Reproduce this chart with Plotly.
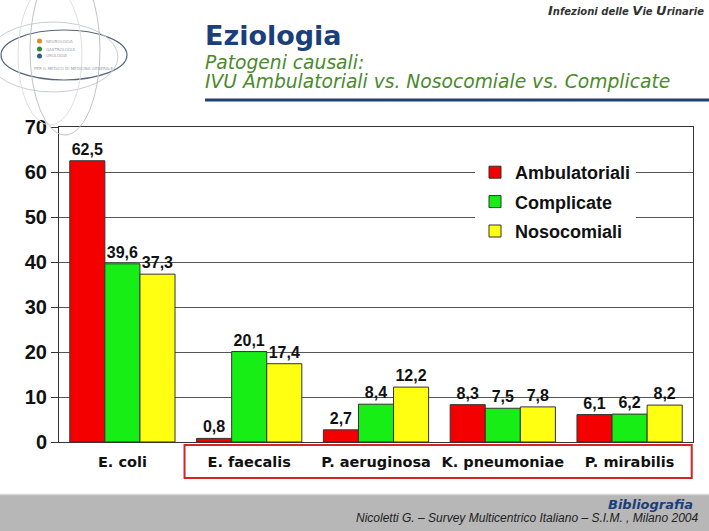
import plotly.graph_objects as go

categories = ["E. coli", "E. faecalis", "P. aeruginosa", "K. pneumoniae", "P. mirabilis"]
ambulatoriali = [62.5, 0.8, 2.7, 8.3, 6.1]
complicate = [39.6, 20.1, 8.4, 7.5, 6.2]
nosocomiali = [37.3, 17.4, 12.2, 7.8, 8.2]
series_names = ["Ambulatoriali", "Complicate", "Nosocomiali"]
series_values = [ambulatoriali, complicate, nosocomiali]
series_colors = ["#F40000", "#16EE16", "#FFFF12"]
y_ticks = [0, 10, 20, 30, 40, 50, 60, 70]

W, H = 709, 531
L, R, T, B = 59, 16, 127, 89
PW, PH = W - L - R, H - T - B


def px(x):
    return (x - L) / PW


def py(y):
    return (H - B - y) / PH


fig = go.Figure()
for i, (name, vals, col) in enumerate(zip(series_names, series_values, series_colors)):
    fig.add_trace(go.Bar(
        x=categories, y=vals, name=name, legendgroup=name,
        marker=dict(color=col, line=dict(color="#333333", width=1)),
        texttemplate="%{y:.1f}", textposition="outside", cliponaxis=False,
        textfont=dict(family="Liberation Sans, Arial", size=16, color="#111111", weight="bold"),
    ))

shapes = []
# red box around the last four categories
shapes.append(dict(type="rect", xref="x", yref="paper", x0=0.49, x1=4.49,
                   y0=py(445), y1=py(478), line=dict(color="#D42424", width=2),
                   fillcolor="rgba(0,0,0,0)", layer="above"))
# header underline
shapes.append(dict(type="line", xref="paper", yref="paper", x0=px(205), x1=px(709),
                   y0=py(100), y1=py(100), line=dict(color="#1F3F78", width=3)))
# bottom gray band
shapes.append(dict(type="rect", xref="paper", yref="paper", x0=px(-5), x1=px(715),
                   y0=py(494), y1=py(535), line=dict(width=0), fillcolor="#B7B7B7", layer="below"))
shapes.append(dict(type="line", xref="paper", yref="paper", x0=px(-5), x1=px(715),
                   y0=py(494.5), y1=py(494.5), line=dict(color="#D8D8D8", width=1.5)))
# logo ellipses
for (x0, x1, y0, y1, c, w) in [
    (1, 127, 30, 80, "#56667A", 1.2),
    (-12, 118, 22, 92, "#C9CDD2", 1),
    (30, 100, -35, 135, "#BFC3C8", 1),
    (18, 82, -15, 125, "#DDDFE1", 1),
]:
    shapes.append(dict(type="circle", xref="paper", yref="paper", x0=px(x0), x1=px(x1),
                       y0=py(y1), y1=py(y0), line=dict(color=c, width=w)))
for (cy, c) in [(41, "#E08A2A"), (49, "#2E8B2E"), (56, "#2B5C8A")]:
    shapes.append(dict(type="circle", xref="paper", yref="paper", x0=px(37), x1=px(42),
                       y0=py(cy + 2.5), y1=py(cy - 2.5), fillcolor=c, line=dict(width=0)))

ann = []


def text(x, y, s, size, color, family, xanchor="left", weight="normal", style="normal"):
    ann.append(dict(x=px(x), y=py(y), xref="paper", yref="paper", text=s, showarrow=False,
                    xanchor=xanchor, yanchor="middle",
                    font=dict(size=size, color=color, family=family, weight=weight, style=style)))


text(203, 36, "Eziologia", 27, "#1B3F7A", "DejaVu Sans", weight="bold")
text(203, 62, "Patogeni causali:", 18.7, "#4A8A2C", "DejaVu Sans", style="italic")
text(203, 81, "IVU Ambulatoriali vs. Nosocomiale vs. Complicate", 18.7, "#4A8A2C", "DejaVu Sans", style="italic")
text(706, 11, "<span style='font-size:13px'>I</span>nfezioni delle <span style='font-size:13px'>V</span>ie "
     "<span style='font-size:13px'>U</span>rinarie", 10, "#333333", "DejaVu Sans",
     xanchor="right", weight="bold", style="italic")
text(695, 504, "Bibliografia", 13, "#1B3F7A", "DejaVu Sans", xanchor="right", weight="bold", style="italic")
text(700, 518, "Nicoletti G. – Survey Multicentrico Italiano – S.I.M. , Milano 2004", 12, "#222222",
     "Liberation Sans", xanchor="right", style="italic")
for (cy, s) in [(41, "NEUROLOGIA"), (49, "GASTROLOGIA"), (56, "UROLOGIA")]:
    text(44, cy, s, 4, "#9AA3AD", "DejaVu Sans")
text(32, 68, "PER IL MEDICO DI MEDICINA GENERALE", 4, "#9AA3AD", "DejaVu Sans")

fig.update_layout(
    width=W, height=H, margin=dict(l=L, r=R, t=T, b=B, autoexpand=False),
    paper_bgcolor="white", plot_bgcolor="white",
    barmode="group", bargap=0.17, bargroupgap=0,
    separators=",.",
    showlegend=True,
    legend=dict(x=px(475), y=py(154), xanchor="left", yanchor="top",
                bgcolor="white", borderwidth=0, tracegroupgap=3,
                font=dict(family="Liberation Sans, Arial", size=18, color="#111111", weight="bold")),
    xaxis=dict(showline=True, linecolor="#333333", linewidth=1, mirror=True, ticks="",
               tickfont=dict(family="DejaVu Sans", size=14.5, color="#111111", weight="bold"),
               ticklabelstandoff=7),
    yaxis=dict(range=[0, 70], tickvals=y_ticks, showline=True, linecolor="#333333", linewidth=1,
               mirror=True, ticks="outside", ticklen=7, tickcolor="#333333",
               showgrid=True, gridcolor="#555555", gridwidth=1, zeroline=False,
               tickfont=dict(family="Liberation Sans, Arial", size=20, color="#111111", weight="bold")),
    shapes=shapes, annotations=ann,
)

fig.write_html("out.html", config={"displayModeBar": False},
               post_script="document.body.style.margin='0px';document.body.style.overflow='hidden';")
